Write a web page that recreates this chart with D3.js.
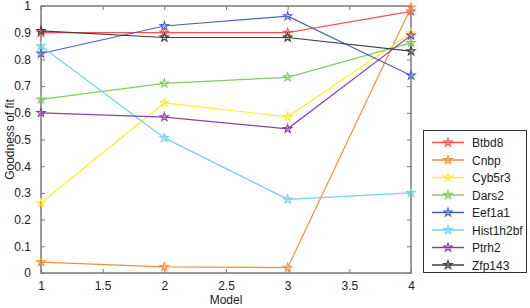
<!DOCTYPE html>
<html>
<head>
<meta charset="utf-8">
<script src="https://cdn.jsdelivr.net/npm/d3@7"></script>
<style>
  body { margin: 0; background: #fff; }
  text { font-family: "Liberation Sans", Arial, sans-serif; }
</style>
</head>
<body>
<svg id="chart" width="530" height="308"></svg>
<script>
// data
const models = [1, 2, 3, 4];
const genes = ["Btbd8", "Cnbp", "Cyb5r3", "Dars2", "Eef1a1", "Hist1h2bf", "Ptrh2", "Zfp143"];
const btbd8 = [0.90, 0.90, 0.90, 0.98];
const cnbp = [0.041, 0.023, 0.02, 0.995];
const cyb5r3 = [0.262, 0.637, 0.585, 0.898];
const dars2 = [0.65, 0.71, 0.733, 0.862];
const eef1a1 = [0.822, 0.925, 0.962, 0.74];
const hist1h2bf = [0.85, 0.506, 0.276, 0.30];
const ptrh2 = [0.60, 0.584, 0.54, 0.89];
const zfp143 = [0.907, 0.882, 0.882, 0.831];
const colors = ["#ff5050", "#f0903c", "#ffee22", "#80cc60", "#4a64c0", "#70d4ec", "#8840a8", "#404040"];
const xTicks = [1, 1.5, 2, 2.5, 3, 3.5, 4];
const yTicks = [0, 0.1, 0.2, 0.3, 0.4, 0.5, 0.6, 0.7, 0.8, 0.9, 1];

const series = [btbd8, cnbp, cyb5r3, dars2, eef1a1, hist1h2bf, ptrh2, zfp143];

const svg = d3.select("#chart");
const plotL = 41, plotR = 411, plotT = 6, plotB = 273;
const axisColor = "#7a7a7a";
const fontSize = 12;

const x = d3.scaleLinear().domain([1, 4]).range([plotL, plotR]);
const y = d3.scaleLinear().domain([0, 1]).range([plotB, plotT]);

// box
svg.append("rect")
    .attr("x", plotL).attr("y", plotT)
    .attr("width", plotR - plotL).attr("height", plotB - plotT)
    .attr("fill", "none").attr("stroke", axisColor).attr("stroke-width", 1.5);

function styleAxis(g) {
    g.select(".domain").remove();
    g.selectAll("line").attr("stroke", axisColor);
    g.selectAll("text").attr("font-size", fontSize).attr("fill", "#222");
}

svg.append("g").attr("transform", `translate(0,${plotB})`)
    .call(d3.axisBottom(x).tickValues(xTicks).tickFormat(d3.format("")).tickSizeInner(-4).tickPadding(8))
    .call(styleAxis);
svg.append("g").attr("transform", `translate(0,${plotT})`)
    .call(d3.axisTop(x).tickValues(xTicks).tickFormat("").tickSizeInner(-4))
    .call(styleAxis);
svg.append("g").attr("transform", `translate(${plotL},0)`)
    .call(d3.axisLeft(y).tickValues(yTicks).tickFormat(d3.format("")).tickSizeInner(-4).tickPadding(10))
    .call(styleAxis);
svg.append("g").attr("transform", `translate(${plotR},0)`)
    .call(d3.axisRight(y).tickValues(yTicks).tickFormat("").tickSizeInner(-4))
    .call(styleAxis);

// axis labels
svg.append("text").attr("x", (plotL + plotR) / 2).attr("y", 304)
    .attr("text-anchor", "middle").attr("font-size", fontSize).attr("fill", "#222").text("Model");
svg.append("text").attr("transform", `translate(14,${(plotT + plotB) / 2}) rotate(-90)`)
    .attr("text-anchor", "middle").attr("font-size", fontSize).attr("fill", "#222").text("Goodness of fit");

const line = d3.line().x((d, i) => x(models[i])).y(d => y(d));
const star = d3.symbol().type(d3.symbolStar).size(22);

const lines = svg.append("g");
series.forEach((vals, k) => {
    lines.append("path").datum(vals)
        .attr("d", line)
        .attr("fill", "none").attr("stroke", colors[k]).attr("stroke-width", 1.2);
    lines.selectAll(null).data(vals).join("path")
        .attr("transform", (d, i) => `translate(${x(models[i])},${y(d)})`)
        .attr("d", star)
        .attr("fill", "none").attr("stroke", colors[k]).attr("stroke-width", 1.1);
});

// legend
const lg = svg.append("g");
lg.append("rect").attr("x", 423.5).attr("y", 130.5).attr("width", 103).attr("height", 142)
    .attr("fill", "#fff").attr("stroke", "#333").attr("stroke-width", 1);
genes.forEach((name, k) => {
    const ly = 142.5 + k * 17.5;
    lg.append("line").attr("x1", 432).attr("x2", 464).attr("y1", ly).attr("y2", ly)
        .attr("stroke", colors[k]).attr("stroke-width", 1.5);
    lg.append("path").attr("transform", `translate(448,${ly})`).attr("d", star)
        .attr("fill", "none").attr("stroke", colors[k]).attr("stroke-width", 1.1);
    lg.append("text").attr("x", 472).attr("y", ly + 4.5).attr("font-size", fontSize).attr("fill", "#222").text(name);
});
</script>
</body>
</html>
